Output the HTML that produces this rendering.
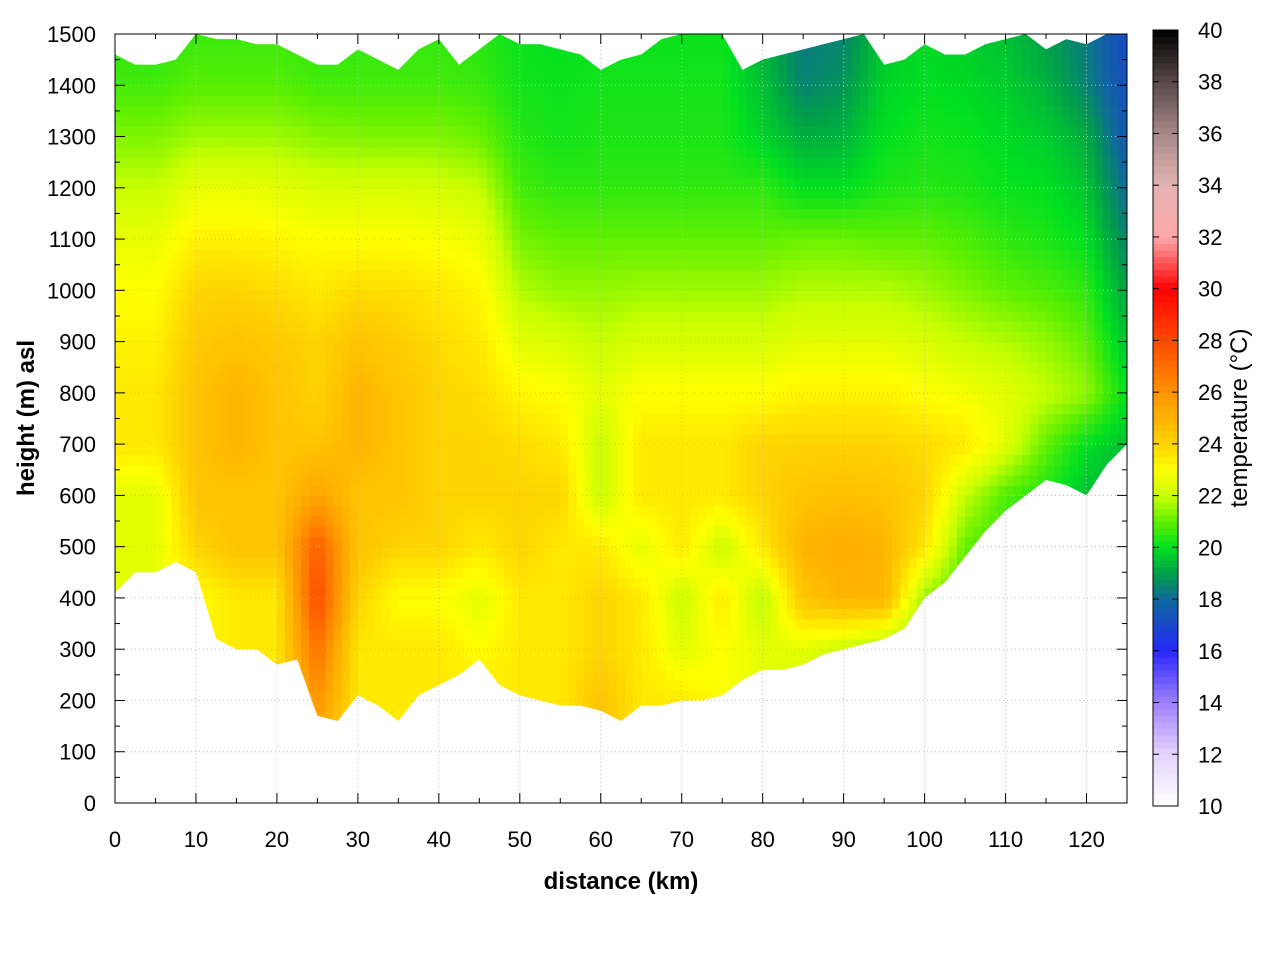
<!DOCTYPE html>
<html><head><meta charset="utf-8"><style>
body{margin:0;background:#fff;font-family:"Liberation Sans",sans-serif}
</style></head><body>
<svg id="chart" width="1280" height="960" xmlns="http://www.w3.org/2000/svg" font-family="Liberation Sans, sans-serif">
<defs><clipPath id="terrain"><path id="terrainPath" d=""/></clipPath></defs>
<g id="cells" clip-path="url(#terrain)"></g>
<g id="grid"></g>
<g id="axes"></g>
<g id="cbar"></g>
<text x="621" y="889" font-size="24" font-weight="bold" text-anchor="middle">distance (km)</text>
<text transform="translate(34,418) rotate(-90)" font-size="24" font-weight="bold" text-anchor="middle">height (m) asl</text>
<text transform="translate(1247,418) rotate(-90)" font-size="24" text-anchor="middle">temperature (°C)</text>
</svg>
<script>
const distCols=[0,5,10,15,20,25,30,35,40,45,50,55,60,65,70,75,80,85,90,95,100,105,110,115,120,125];
const heightRows=[100,200,300,400,500,600,700,800,900,1000,1100,1200,1300,1400,1500];
const temps=[
[23.5,23.5,23.5,23.5,23.5,25,23.5,23.5,23.5,23.5,23.5,23.5,24.5,23.5,23.5,23,22.5,22,22,21.5,21,20.5,20,19.5,19,19],
[23.5,23.5,23.5,23.5,23.5,26,23.5,23.5,23.5,23.5,23.5,23.5,24.5,23.5,23.5,23,22.5,22,22,21.5,21,20.5,20,19.5,19,19],
[23,23,23,23.5,23.5,27,23.5,23.5,23.5,23,23.5,23.5,24,23.5,22.5,23,22.5,22.5,22,21.5,21,20.5,20,19.5,19,19],
[22.5,22.5,23,23.5,23.5,28,24,23,23,22.5,23.5,23.5,24,23.5,22,23.5,21.8,24.5,25,25,21.5,20.5,20,19.5,19,19],
[22.5,22.5,24,24.5,24.5,27.5,24.5,24,24,23.5,24,23.5,23.5,22.5,23.5,22,23.5,25,25.2,25,23.5,21,20.5,20,19.5,19],
[22.5,22.5,24.5,24.5,24.5,25.5,24.5,24.5,24,24,24,24,22,23.5,23.5,23.5,24,24.5,24.7,24.5,24,22,20.8,20.3,19.5,19],
[23.5,23.5,24.5,25,24.5,24.5,25,24.5,24,24,23.8,23.5,22,23.5,23.5,23.5,24,24,24,24,23.8,23.5,22.5,21,20,19.5],
[23.5,23.5,24.5,25,24.5,24,25,24.5,24,23.8,23.2,23,22.5,23,23,23,23,23.3,23.3,23.3,23,22.8,22.5,22,21.5,20],
[23.3,23.3,24.3,24.5,24.3,24,24.5,24.2,23.8,23.5,22.5,22.3,22,22.3,22.3,22.3,22.3,22.5,22.5,22.5,22.3,22,21.8,21.5,21,19.5],
[23,23,24,24,23.8,23.5,23.8,23.7,23.5,23.2,21.8,21.5,21.5,21.6,21.6,21.6,21.6,21.8,21.8,21.8,21.6,21.3,21,20.8,20.5,19],
[22.6,22.6,23.3,23.3,23.2,23,23,23,22.9,22.7,21.2,21,21,21,21,21,21,21.1,21.1,21,21,20.8,20.5,20.3,20,18.5],
[22,22,22.6,22.6,22.5,22.3,22.3,22.3,22.2,22,20.7,20.5,20.5,20.5,20.5,20.5,20.5,20,20,20.3,20.4,20.3,20.1,20,19.6,18],
[21.3,21.3,21.6,21.6,21.6,21.4,21.3,21.3,21.3,21.1,20.4,20.2,20.3,20.3,20.3,20.3,19.8,19.2,19.3,20,20.2,20.1,19.9,19.7,19.2,17.5],
[20.7,20.7,20.9,20.9,20.9,20.7,20.7,20.7,20.7,20.6,20.2,20.1,20.2,20.2,20.2,20.2,19.5,18.5,18.8,19.8,20,19.9,19.7,19.3,18.5,17.2],
[20.4,20.4,20.6,20.6,20.6,20.5,20.5,20.5,20.5,20.4,20.1,20,20.1,20.1,20.1,20.1,19.3,18.3,18.5,19.6,19.9,19.7,19.5,19,18.3,17]];
const profileDist=[];for(let i=0;i<=50;i++)profileDist.push(i*2.5);
const groundH=[410,450,450,470,450,320,300,300,270,280,170,160,210,190,160,210,230,250,280,230,210,200,190,190,180,160,190,190,200,200,210,240,260,260,270,290,300,310,320,340,400,430,480,530,570,600,630,620,600,660,700];
const topH=[1460,1440,1440,1450,1500,1490,1490,1480,1480,1460,1440,1440,1470,1450,1430,1470,1490,1440,1470,1500,1480,1480,1470,1460,1430,1450,1460,1490,1500,1500,1500,1430,1450,1460,1470,1480,1490,1500,1440,1450,1480,1460,1460,1480,1490,1500,1470,1490,1480,1500,1500];
const xTicks=[0,10,20,30,40,50,60,70,80,90,100,110,120];
const yTicks=[0,100,200,300,400,500,600,700,800,900,1000,1100,1200,1300,1400,1500];
const cTicks=[10,12,14,16,18,20,22,24,26,28,30,32,34,36,38,40];
const cStops=[[10,'#ffffff'],[12,'#e4d4ff'],[14,'#a080ff'],[16,'#2828ff'],[17,'#1848c8'],[18,'#10689c'],[19,'#00a048'],[20,'#00e020'],[21,'#60f000'],[22,'#c8ff00'],[23,'#ffff00'],[24,'#ffd400'],[25,'#ffb400'],[26,'#ff9400'],[28,'#ff4800'],[30,'#ff0000'],[32,'#ffa8a8'],[34,'#e4b4b4'],[36,'#a88888'],[38,'#584848'],[40,'#000000']];
const NS='http://www.w3.org/2000/svg';
const X0=115,X1=1127,Y0=803,Y1=34;
const xs=d=>X0+(d/125)*(X1-X0), ys=h=>Y0-(h/1500)*(Y0-Y1);
function hex(c){return [1,3,5].map(i=>parseInt(c.substr(i,2),16));}
function color(t){t=Math.max(10,Math.min(40,t));for(let i=0;i<cStops.length-1;i++){const [a,ca]=cStops[i],[b,cb]=cStops[i+1];if(t<=b){const f=(t-a)/(b-a),A=hex(ca),B=hex(cb);return 'rgb('+A.map((v,k)=>Math.round(v+(B[k]-v)*f)).join(',')+')';}}return '#000';}
function interp(arr,xsA,x){if(x<=xsA[0])return arr[0];for(let i=0;i<xsA.length-1;i++){if(x<=xsA[i+1]){const f=(x-xsA[i])/(xsA[i+1]-xsA[i]);return arr[i]+(arr[i+1]-arr[i])*f;}}return arr[arr.length-1];}
function temp(d,h){const col=heightRows.map((_,r)=>interp(temps[r],distCols,d));return interp(col,heightRows,h);}
function mk(tag,attrs,parent){const e=document.createElementNS(NS,tag);for(const k in attrs)e.setAttribute(k,attrs[k]);parent.appendChild(e);return e;}
let p='M'+xs(0)+','+ys(groundH[0]);
profileDist.forEach((d,i)=>p+=' L'+xs(d)+','+ys(groundH[i]));
for(let i=profileDist.length-1;i>=0;i--)p+=' L'+xs(profileDist[i])+','+ys(topH[i]);
document.getElementById('terrainPath').setAttribute('d',p+'Z');
const cells=document.getElementById('cells');
const dd=1,dh=20;
for(let d=0;d<125;d+=dd){for(let h=100;h<1500;h+=dh){
 const r=mk('rect',{x:xs(d).toFixed(1),y:ys(h+dh).toFixed(1),width:(xs(d+dd)-xs(d)+0.6).toFixed(1),height:(ys(h)-ys(h+dh)+0.6).toFixed(1),fill:color(temp(d+dd/2,h+dh/2))},cells);
 
 
}}
const grid=document.getElementById('grid'),axes=document.getElementById('axes');
xTicks.forEach(v=>{if(v>0)mk('line',{x1:xs(v),x2:xs(v),y1:Y0,y2:Y1,stroke:'#bbb','stroke-width':1,'stroke-dasharray':'1,3'},grid);
 const t=mk('text',{x:xs(v),y:847,'font-size':22,'text-anchor':'middle'},axes);t.textContent=v;
 });
yTicks.forEach(v=>{if(v>0&&v<1500)mk('line',{x1:X0,x2:X1,y1:ys(v),y2:ys(v),stroke:'#bbb','stroke-width':1,'stroke-dasharray':'1,3'},grid);
 const t=mk('text',{x:96,y:ys(v)+8,'font-size':22,'text-anchor':'end'},axes);t.textContent=v;
 });
for(let v=0;v<=125;v+=5){const L=v%10===0?10:5;mk('line',{x1:xs(v),x2:xs(v),y1:Y0,y2:Y0-L,stroke:'#000'},axes);mk('line',{x1:xs(v),x2:xs(v),y1:Y1,y2:Y1+L,stroke:'#000'},axes);}
for(let v=0;v<=1500;v+=50){const L=v%100===0?10:5;mk('line',{x1:X0,x2:X0+L,y1:ys(v),y2:ys(v),stroke:'#000'},axes);mk('line',{x1:X1,x2:X1-L,y1:ys(v),y2:ys(v),stroke:'#000'},axes);}
mk('rect',{x:X0,y:Y1,width:X1-X0,height:Y0-Y1,fill:'none',stroke:'#000','stroke-width':1},axes);
const cb=document.getElementById('cbar'),CX=1153,CW=25,CY0=806,CY1=30;
const cy=t=>CY0-(t-10)/30*(CY0-CY1);
for(let t=10;t<40;t+=0.25){mk('rect',{x:CX,y:cy(t+0.25).toFixed(1),width:CW,height:(cy(t)-cy(t+0.25)+0.6).toFixed(1),fill:color(t+0.125)},cb);}
mk('rect',{x:CX,y:CY1,width:CW,height:CY0-CY1,fill:'none',stroke:'#000'},cb);
cTicks.forEach(v=>{mk('line',{x1:CX,x2:CX+6,y1:cy(v),y2:cy(v),stroke:'#000'},cb);mk('line',{x1:CX+CW,x2:CX+CW-6,y1:cy(v),y2:cy(v),stroke:'#000'},cb);
 const t=mk('text',{x:1198,y:cy(v)+8,'font-size':22},cb);t.textContent=v;
 });
</script>
</body></html>
